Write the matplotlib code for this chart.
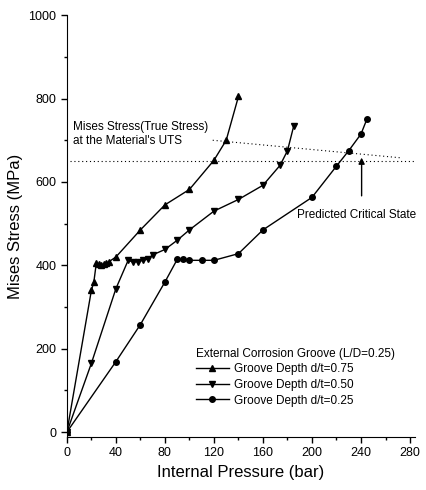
import matplotlib
matplotlib.use("Agg")
import matplotlib.pyplot as plt
from matplotlib.ticker import MultipleLocator

plt.rcParams['font.family'] = ['Liberation Sans', 'DejaVu Sans']

# Data
s75_x = [0, 20, 22, 24, 26, 28, 30, 32, 34, 40, 60, 80, 100, 120, 130, 140]
s75_y = [0, 340, 360, 405, 402, 401, 403, 405, 408, 420, 485, 545, 582, 652, 700, 805]

s50_x = [0, 20, 40, 50, 54, 58, 62, 66, 70, 80, 90, 100, 120, 140, 160, 174, 180, 185]
s50_y = [0, 165, 344, 412, 408, 409, 412, 415, 425, 438, 460, 485, 530, 558, 592, 640, 675, 733]

s25_x = [0, 40, 60, 80, 90, 95, 100, 110, 120, 140, 160, 200, 220, 230, 240, 245]
s25_y = [0, 169, 258, 360, 414, 414, 412, 412, 412, 428, 485, 563, 638, 675, 715, 752]

uts_level = 650
slant_x = [119, 272]
slant_y = [700, 658]
critical_x = 240.5
critical_y = [560, 665]

labels = ["Groove Depth d/t=0.75", "Groove Depth d/t=0.50", "Groove Depth d/t=0.25"]
legend_title = "External Corrosion Groove (L/D=0.25)"

fig = plt.figure(figsize=(4.26, 4.9), dpi=100)
ax = fig.add_axes([0.157, 0.108, 0.817, 0.861])

kw = dict(color='black', linewidth=1.0, markersize=4)
ax.plot(s75_x, s75_y, marker='^', label=labels[0], **kw)
ax.plot(s50_x, s50_y, marker='v', label=labels[1], **kw)
ax.plot(s25_x, s25_y, marker='o', label=labels[2], **kw)

dot = (0, (1, 2.5))
ax.axhline(uts_level, xmin=0.01, xmax=1.0, color='black', linestyle=dot, linewidth=0.8)
ax.plot(slant_x, slant_y, color='black', linestyle=dot, linewidth=0.8)

ax.annotate("", xy=(critical_x, critical_y[1]), xytext=(critical_x, critical_y[0]),
            arrowprops=dict(arrowstyle='-|>', color='black', lw=1.0, mutation_scale=9))

ax.text(5, 731, "Mises Stress(True Stress)", fontsize=8.5, va='center', ha='left')
ax.text(5, 698, "at the Material's UTS", fontsize=8.5, va='center', ha='left')
ax.text(188, 520, "Predicted Critical State", fontsize=8.5, va='center', ha='left')

ax.set_xlim(0, 284)
ax.set_ylim(-12, 1000)
ax.xaxis.set_major_locator(MultipleLocator(40))
ax.xaxis.set_minor_locator(MultipleLocator(20))
ax.yaxis.set_major_locator(MultipleLocator(200))
ax.yaxis.set_minor_locator(MultipleLocator(100))
ax.spines['top'].set_visible(False)
ax.spines['right'].set_visible(False)
ax.tick_params(which='major', direction='out', length=4, width=1, labelsize=9)
ax.tick_params(which='minor', direction='out', length=2, width=1)

ax.set_xlabel("Internal Pressure (bar)", fontsize=12, labelpad=4)
ax.set_ylabel("Mises Stress (MPa)", fontsize=12, labelpad=4)

leg = ax.legend(title=legend_title, frameon=False, fontsize=8.5, title_fontsize=8.5,
                loc='upper left', bbox_to_anchor=(190/426, 1 - 342/490),
                bbox_transform=fig.transFigure, handlelength=2.8, handletextpad=0.4,
                labelspacing=0.3, alignment='left', borderpad=0)

fig.savefig("out.png", dpi=100)
